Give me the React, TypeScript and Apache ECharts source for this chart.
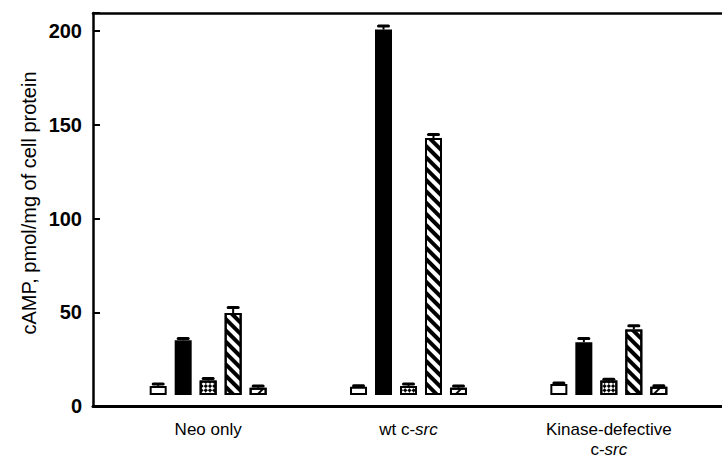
import React, { useEffect, useRef } from 'react';
import * as echarts from 'echarts';

const categories = ['Neo only', 'wt c-src', 'Kinase-defective c-src'];
const seriesNames = ['Control', 'Stimulus A', 'Stimulus B', 'Stimulus C', 'Stimulus D'];
const controlValues = [5, 4.5, 6];
const controlErrors = [1, 0.6, 0.6];
const blackValues = [30, 200.5, 29];
const blackErrors = [1, 2, 2];
const crossValues = [8, 5, 8];
const crossErrors = [1, 1, 0.6];
const stripeValues = [45, 141, 36];
const stripeErrors = [3, 2, 2];
const diagValues = [4, 4, 4.5];
const diagErrors = [1, 1, 0.6];
const yTicks = [0, 50, 100, 150, 200];
const yTitle = 'cAMP, pmol/mg of cell protein';

const FONT = '"Liberation Sans", Arial, Helvetica, sans-serif';

export default function App() {
  const ref = useRef<HTMLDivElement>(null);
  useEffect(() => {
    if (!ref.current) return;
    const chart = echarts.init(ref.current, undefined, { renderer: 'svg' });
    const values = [controlValues, blackValues, crossValues, stripeValues, diagValues];
    const errors = [controlErrors, blackErrors, crossErrors, stripeErrors, diagErrors];
    const barWidth = 17;
    const gapRatio = 0.47;
    const step = barWidth * (1 + gapRatio);
    const decals: any[] = [
      null,
      null,
      {
        symbol: 'rect',
        symbolSize: 1,
        color: '#000',
        backgroundColor: '#fff',
        dashArrayX: [[3, 3], [0, 3, 3, 0]],
        dashArrayY: [3, 0],
        rotation: Math.PI / 4,
      },
      {
        symbol: 'rect',
        symbolSize: 1,
        color: '#000',
        backgroundColor: '#fff',
        dashArrayX: [1, 0],
        dashArrayY: [4, 4],
        rotation: Math.PI / 4,
      },
      {
        symbol: 'rect',
        symbolSize: 1,
        color: '#000',
        backgroundColor: '#fff',
        dashArrayX: [1, 0],
        dashArrayY: [2, 8],
        rotation: -Math.PI / 4,
      },
    ];
    const barSeries = values.map((vals, i) => ({
      type: 'bar',
      name: seriesNames[i],
      xAxisIndex: 2,
      yAxisIndex: 1,
      barWidth,
      barGap: gapRatio * 100 + '%',
      data: vals,
      itemStyle: {
        color: i === 1 ? '#000' : '#fff',
        borderColor: '#000',
        borderWidth: 2,
        decal: decals[i] || undefined,
      },
      z: 2,
    }));
    const errSeries = values.map((vals, i) => ({
      type: 'custom',
      name: seriesNames[i] + ' error',
      xAxisIndex: 2,
      yAxisIndex: 1,
      z: 3,
      encode: { x: 0, y: 1 },
      data: vals.map((v, ci) => [ci, v, errors[i][ci]]),
      renderItem: (params: any, api: any) => {
        const ci = api.value(0);
        const v = api.value(1);
        const e = api.value(2);
        const base = api.coord([ci, v]);
        const top = api.coord([ci, v + e]);
        const x = base[0] + (i - 2) * step;
        return {
          type: 'group',
          children: [
            { type: 'line', shape: { x1: x, y1: base[1], x2: x, y2: top[1] }, style: { stroke: '#000', lineWidth: 2 } },
            { type: 'line', shape: { x1: x - 5, y1: top[1], x2: x + 5, y2: top[1] }, style: { stroke: '#000', lineWidth: 3, lineCap: 'round' } },
          ],
        };
      },
    }));
    const yMax = 209.6;
    chart.setOption({
      animation: false,
      backgroundColor: '#fff',
      textStyle: { fontFamily: FONT, color: '#000' },
      grid: [
        { left: 93, top: 13, width: 640, height: 393 },
        { left: 108, top: 13, width: 601, height: 393 },
      ],
      xAxis: [
        {
          gridIndex: 0, type: 'value', min: 0, max: 1, position: 'bottom',
          axisLine: { show: true, lineStyle: { color: '#000', width: 3 } },
          axisTick: { show: false }, axisLabel: { show: false }, splitLine: { show: false },
        },
        {
          gridIndex: 0, type: 'value', min: 0, max: 1, position: 'top',
          axisLine: { show: true, lineStyle: { color: '#000', width: 2.5 } },
          axisTick: { show: false }, axisLabel: { show: false }, splitLine: { show: false },
        },
        {
          gridIndex: 1, type: 'category', data: categories,
          axisLine: { show: false }, axisTick: { show: false }, splitLine: { show: false },
          axisLabel: {
            margin: 24,
            fontSize: 17,
            lineHeight: 20,
            fontFamily: FONT,
            color: '#000',
            interval: 0,
            formatter: (v: string) => {
              if (v === 'wt c-src') return 'wt c-{i|src}';
              if (v === 'Kinase-defective c-src') return 'Kinase-defective\nc-{i|src}';
              return v;
            },
            rich: {
              i: { fontStyle: 'italic', fontSize: 17, lineHeight: 20, fontFamily: FONT, color: '#000' },
            },
          },
        },
      ],
      yAxis: [
        {
          gridIndex: 0, type: 'value', min: 0, max: yMax, interval: 50,
          axisLine: { show: true, lineStyle: { color: '#000', width: 2.5 } },
          axisTick: { show: true, inside: true, length: 7, lineStyle: { color: '#000', width: 2 } },
          axisLabel: {
            margin: 11, fontSize: 20, fontWeight: 'bold', color: '#000', fontFamily: FONT,
            formatter: (v: number) => (yTicks.indexOf(v) >= 0 ? String(v) : ''),
          },
          splitLine: { show: false },
        },
        { gridIndex: 1, type: 'value', min: 0, max: yMax, show: false, splitLine: { show: false } },
      ],
      graphic: [
        {
          type: 'text', x: 29, y: 203, rotation: Math.PI / 2,
          style: { text: yTitle, fontSize: 20, fontFamily: FONT, fill: '#000', align: 'center', verticalAlign: 'middle' },
        },
      ],
      series: [...barSeries, ...errSeries],
    });
    return () => chart.dispose();
  }, []);
  return (
    <div
      ref={ref}
      style={{ position: 'fixed', left: 0, top: 0, width: 722, height: 459, background: '#fff' }}
    />
  );
}
